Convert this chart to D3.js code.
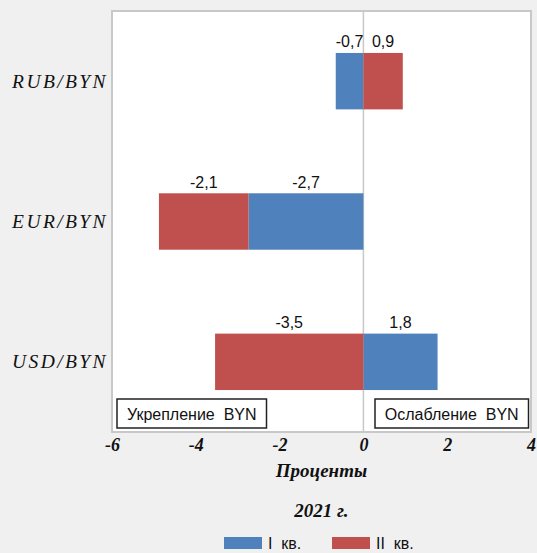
<!DOCTYPE html>
<html>
<head>
<meta charset="utf-8">
<script src="https://cdn.jsdelivr.net/npm/d3@7"></script>
<style>
  body { margin: 0; background: #f0f0f0; }
  svg { display: block; }
  text { white-space: pre; }
</style>
</head>
<body>
<div id="chart"></div>
<script>
// pairs of currencies, top to bottom
const categories = ["RUB/BYN", "EUR/BYN", "USD/BYN"];
const seriesNames = ["I  кв.", "II  кв."];
const q1 = [-0.66, -2.74, 1.77];
const q2 = [0.94, -2.14, -3.54];
const xTicks = [-6, -4, -2, 0, 2, 4];
const colors = ["#4f81bd", "#c0504d"];

const width = 537, height = 553;
const plotL = 112, plotR = 531, plotT = 11, plotB = 432;

const rows = categories.map((c, i) => ({cat: c, q1: q1[i], q2: q2[i]}));

const svg = d3.select("#chart").append("svg")
    .attr("width", width)
    .attr("height", height);

const x = d3.scaleLinear().domain([-6, 4]).range([plotL, plotR]);
const y = d3.scaleBand().domain(categories).range([plotT, plotB])
    .paddingInner(0.598).paddingOuter(0.299);

// plot background
svg.append("rect")
    .attr("x", plotL).attr("y", plotT)
    .attr("width", plotR - plotL).attr("height", plotB - plotT)
    .attr("fill", "#fff")
    .attr("stroke", "#c8c8c8")
    .attr("stroke-width", 2);

svg.append("line")
    .attr("x1", x(0)).attr("x2", x(0))
    .attr("y1", plotT).attr("y2", plotB)
    .attr("stroke", "#c8c8c8")
    .attr("stroke-width", 1.5);

const stack = d3.stack().keys(["q1", "q2"]).offset(d3.stackOffsetDiverging);
const layers = stack(rows);

const fmt = v => d3.format(".1f")(v).replace(".", ",").replace("−", "-");

layers.forEach((layer, k) => {
  const g = svg.append("g");
  g.selectAll("rect").data(layer).enter().append("rect")
      .attr("x", d => x(Math.min(d[0], d[1])))
      .attr("y", d => y(d.data.cat))
      .attr("width", d => Math.abs(x(d[1]) - x(d[0])))
      .attr("height", y.bandwidth())
      .attr("fill", colors[k]);

  g.selectAll("text").data(layer).enter().append("text")
      .attr("x", d => x((d[0] + d[1]) / 2))
      .attr("y", d => y(d.data.cat) - 5.5)
      .attr("text-anchor", "middle")
      .attr("font-family", "Liberation Sans, Arial, sans-serif")
      .attr("font-size", 16)
      .attr("fill", "#111")
      .text(d => fmt(d.data[layer.key]));
});

// category labels
svg.append("g").selectAll("text").data(categories).enter().append("text")
    .attr("x", plotL - 4)
    .attr("y", d => y(d) + y.bandwidth() / 2 + 6.5)
    .attr("text-anchor", "end")
    .attr("font-family", "Liberation Serif, serif")
    .attr("font-style", "italic")
    .attr("font-size", 19.5)
    .attr("letter-spacing", 2.4)
    .attr("fill", "#111")
    .text(d => d);

// x axis
const axis = svg.append("g")
    .attr("transform", `translate(0,${plotB})`)
    .call(d3.axisBottom(x).tickValues(xTicks).tickSize(0).tickPadding(0)
      .tickFormat(d => String(d)));
axis.select(".domain").remove();
axis.selectAll("text")
    .attr("dy", null)
    .attr("y", 19)
    .attr("font-family", "Liberation Serif, serif")
    .attr("font-style", "italic")
    .attr("font-weight", "bold")
    .attr("font-size", 18)
    .attr("fill", "#111");

svg.append("text")
    .attr("x", (plotL + plotR) / 2).attr("y", 477)
    .attr("text-anchor", "middle")
    .attr("font-family", "Liberation Serif, serif")
    .attr("font-style", "italic")
    .attr("font-weight", "bold")
    .attr("font-size", 19)
    .attr("fill", "#111")
    .text("Проценты");

svg.append("text")
    .attr("x", (plotL + plotR) / 2).attr("y", 517)
    .attr("text-anchor", "middle")
    .attr("font-family", "Liberation Serif, serif")
    .attr("font-style", "italic")
    .attr("font-weight", "bold")
    .attr("font-size", 19)
    .attr("fill", "#111")
    .text("2021 г.");

// annotation boxes
const boxes = [
  {label: "Укрепление  BYN", x0: 117, x1: 266.5},
  {label: "Ослабление  BYN", x0: 375, x1: 528.5}
];
const bg = svg.append("g").selectAll("g").data(boxes).enter().append("g");
bg.append("rect")
    .attr("x", d => d.x0).attr("y", 399)
    .attr("width", d => d.x1 - d.x0).attr("height", 29)
    .attr("fill", "#fff")
    .attr("stroke", "#222")
    .attr("stroke-width", 1.5);
bg.append("text")
    .attr("x", d => (d.x0 + d.x1) / 2).attr("y", 419.5)
    .attr("text-anchor", "middle")
    .attr("font-family", "Liberation Sans, Arial, sans-serif")
    .attr("font-size", 16)
    .attr("fill", "#111")
    .text(d => d.label);

// legend (kept fully inside the frame)
const legX = [224, 332];
const lg = svg.append("g").selectAll("g").data(seriesNames).enter().append("g")
    .attr("transform", (d, i) => `translate(${legX[i]},537)`);
lg.append("rect")
    .attr("width", 38).attr("height", 12)
    .attr("fill", (d, i) => colors[i]);
lg.append("text")
    .attr("x", 44).attr("y", 12)
    .attr("font-family", "Liberation Sans, Arial, sans-serif")
    .attr("font-size", 16)
    .attr("fill", "#111")
    .text(d => d);
</script>
</body>
</html>
